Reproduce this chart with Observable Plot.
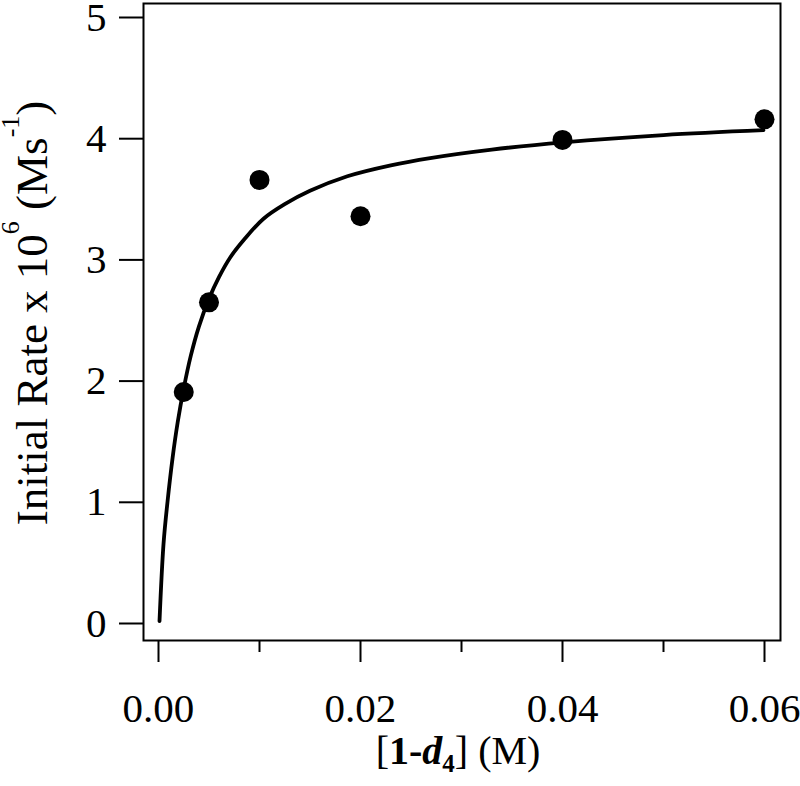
<!DOCTYPE html>
<html>
<head>
<meta charset="utf-8">
<script src="https://cdn.jsdelivr.net/npm/d3@7"></script>
<script src="https://cdn.jsdelivr.net/npm/@observablehq/plot@0.6"></script>
<style>
  html, body { margin: 0; padding: 0; background: #fff; }
  #chart svg { display: block; }
</style>
</head>
<body>
<div id="chart"></div>
<script>
// Measured points: concentration of 1-d4 (M) vs initial rate x 10^6 (M s^-1)
const concM = [0.0025, 0.005, 0.010, 0.020, 0.040, 0.060];
const rate = [1.91, 2.65, 3.66, 3.36, 3.99, 4.16];

// Fitted curve
const curveX = [0.0001, 0.0005, 0.0009, 0.0014, 0.0019, 0.0025, 0.0032, 0.0040, 0.0050, 0.0060, 0.0071, 0.0085, 0.0104, 0.0125, 0.0150, 0.0187, 0.0230, 0.0269, 0.0330, 0.0401, 0.0500, 0.0599];
const curveY = [0.02, 0.66, 1.01, 1.37, 1.66, 1.94, 2.21, 2.45, 2.68, 2.86, 3.02, 3.17, 3.34, 3.46, 3.57, 3.69, 3.78, 3.84, 3.91, 3.97, 4.03, 4.07];

const xMajorTicks = [0.00, 0.02, 0.04, 0.06];
const xMinorTicks = [0.01, 0.03, 0.05];
const yTicks = [0, 1, 2, 3, 4, 5];

const points = concM.map((c, i) => ({x: c, y: rate[i]}));
const curve = curveX.map((c, i) => ({x: c, y: curveY[i]}));

const FONT = "'Liberation Serif', 'DejaVu Serif', serif";

const chart = Plot.plot({
  width: 800,
  height: 786,
  marginLeft: 143,
  marginRight: 20,
  marginTop: 3,
  marginBottom: 146,
  style: {fontFamily: FONT, fontSize: "41px", color: "black", background: "white"},
  x: {domain: [-0.001485, 0.061584]},
  y: {domain: [-0.1403, 5.1155]},
  marks: [
    Plot.axisX({ticks: xMajorTicks, tickSize: 22, tickPadding: 30, strokeWidth: 2, tickFormat: d3.format(".2f"), label: null, fontSize: 41}),
    Plot.axisX({ticks: xMinorTicks, tickSize: 12, strokeWidth: 2, tickFormat: () => "", label: null}),
    Plot.axisY({ticks: yTicks, tickSize: 24, tickPadding: 13, strokeWidth: 2, tickFormat: d => String(d), label: null, fontSize: 41}),
    Plot.line(curve, {x: "x", y: "y", stroke: "black", strokeWidth: 3.8, curve: "catmull-rom"}),
    Plot.dot(points, {x: "x", y: "y", r: 10, fill: "black", stroke: "none"}),
    Plot.frame({stroke: "black", strokeWidth: 2})
  ]
});

document.getElementById("chart").appendChild(chart);

// Axis titles with super/subscripts
const svg = d3.select(chart);

const yt = svg.append("text")
  .attr("transform", "translate(47,313) rotate(-90)")
  .attr("text-anchor", "middle")
  .attr("fill", "black")
  .style("font-family", FONT)
  .style("font-size", "45px");
yt.append("tspan").text("Initial Rate x 10");
yt.append("tspan").attr("dy", -28).style("font-size", "26px").text("6");
yt.append("tspan").attr("dy", 28).text(" (Ms");
yt.append("tspan").attr("dy", -28).style("font-size", "26px").text("-1");
yt.append("tspan").attr("dy", 28).text(")");

const xt = svg.append("text")
  .attr("x", 458)
  .attr("y", 764)
  .attr("text-anchor", "middle")
  .attr("fill", "black")
  .style("font-family", FONT)
  .style("font-size", "40px");
xt.append("tspan").text("[");
xt.append("tspan").style("font-weight", "bold").text("1-");
xt.append("tspan").style("font-weight", "bold").style("font-style", "italic").text("d");
xt.append("tspan").attr("dy", 8).style("font-weight", "bold").style("font-size", "25px").text("4");
xt.append("tspan").attr("dy", -8).text("] (M)");
</script>
</body>
</html>
